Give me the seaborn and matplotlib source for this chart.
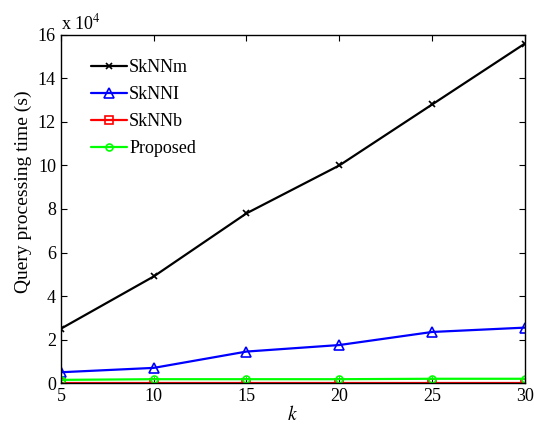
import numpy as np
import pandas as pd
import matplotlib
matplotlib.use("Agg")
import matplotlib.pyplot as plt
import seaborn as sns

k = [5, 10, 15, 20, 25, 30]
sknnm = [2.5, 4.9, 7.8, 10.0, 12.8, 15.6]
sknni = [0.5, 0.7, 1.45, 1.75, 2.35, 2.55]
sknnb = [0.02, 0.02, 0.02, 0.02, 0.02, 0.02]
proposed = [0.15, 0.18, 0.18, 0.18, 0.2, 0.2]
names = ["SkNNm", "SkNNI", "SkNNb", "Proposed"]
colors = ["black", "#0000ff", "#ff0000", "#00ff00"]
markers = ["x", "^", "s", "o"]
msizes = [5, 7.5, 6, 5]

sns.set_style("white")
plt.rcParams['font.family'] = ['Liberation Serif', 'DejaVu Serif']
plt.rcParams['mathtext.fontset'] = 'stix'
plt.rcParams['text.color'] = 'black'
plt.rcParams['axes.labelcolor'] = 'black'
plt.rcParams['xtick.color'] = 'black'
plt.rcParams['ytick.color'] = 'black'

rows = []
for n, vals in zip(names, [sknnm, sknni, sknnb, proposed]):
    for kk, v in zip(k, vals):
        rows.append({"k": kk, "t": v, "method": n})
df = pd.DataFrame(rows)

fig = plt.figure(figsize=(5.34, 4.30), dpi=100)
ax = fig.add_axes([0.114, 0.109, 0.869, 0.810])
for n, c, m, ms in zip(names, colors, markers, msizes):
    sub = df[df.method == n]
    sns.lineplot(data=sub, x="k", y="t", ax=ax, color=c, marker=m,
                 markersize=ms, markerfacecolor='none', markeredgecolor=c,
                 markeredgewidth=1.2, linewidth=1.6, label=n)

ax.set_xlim(5, 30)
ax.set_ylim(0, 16)
ax.set_xticks(k)
ax.set_yticks(range(0, 17, 2))
ax.tick_params(direction='in', labelsize=13, length=4, top=True, right=True,
               bottom=True, left=True, colors='black')
for s in ax.spines.values():
    s.set_color('black')
    s.set_linewidth(1.0)
ax.set_xlabel("$k$", fontsize=14, labelpad=0, color='black')
ax.set_ylabel("Query processing time (s)", fontsize=14, color='black')
ax.yaxis.set_label_coords(-0.062, 0.55)
ax.text(0.0, 1.005, "x 10$^{4}$", transform=ax.transAxes, fontsize=13,
        ha='left', va='bottom', color='black')
leg = ax.legend(loc='upper left', bbox_to_anchor=(0.05, 0.95), frameon=False,
                fontsize=13, handlelength=2.0, handletextpad=0.1,
                labelspacing=0.55, borderaxespad=0)
for t in leg.get_texts():
    t.set_color('black')
fig.savefig("out.png", dpi=100)
